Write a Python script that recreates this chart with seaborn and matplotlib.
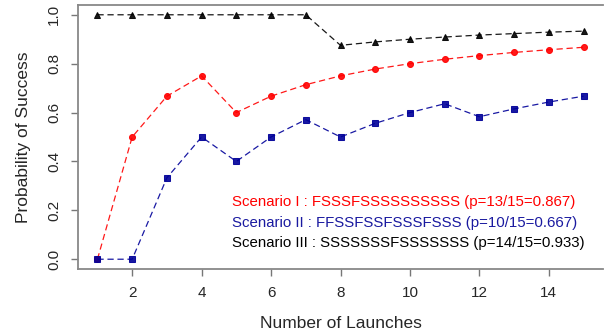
import numpy as np
import pandas as pd
import matplotlib
matplotlib.use("Agg")
import matplotlib.pyplot as plt
import seaborn as sns

launches = list(range(1, 16))
scen1 = [0.0, 0.5, 0.667, 0.75, 0.6, 0.667, 0.714, 0.75, 0.778, 0.8, 0.818, 0.833, 0.846, 0.857, 0.867]
scen2 = [0.0, 0.0, 0.333, 0.5, 0.4, 0.5, 0.571, 0.5, 0.556, 0.6, 0.636, 0.583, 0.615, 0.643, 0.667]
scen3 = [1.0, 1.0, 1.0, 1.0, 1.0, 1.0, 1.0, 0.875, 0.889, 0.9, 0.909, 0.917, 0.923, 0.929, 0.933]

labels = ["Scenario I : FSSSFSSSSSSSSSS (p=13/15=0.867)",
          "Scenario II : FFSSFSSFSSSFSSS (p=10/15=0.667)",
          "Scenario III : SSSSSSSFSSSSSSS (p=14/15=0.933)"]

sns.set_style("white")
plt.rcParams['font.family'] = ['Liberation Sans', 'DejaVu Sans']

fig = plt.figure(figsize=(6.04, 3.34), dpi=100)
ax = fig.add_axes([78 / 604, 1 - 269 / 334, 525 / 604, 264 / 334])

series = [(scen3, "black", "^", 4.8), (scen1, "red", "o", 4.3), (scen2, "#000099", "s", 3.8)]
for vals, col, mk, ms in series:
    sns.lineplot(x=launches, y=vals, ax=ax, color=col, marker=mk, markersize=ms,
                 markeredgecolor=col, linestyle=(0, (5, 3)), linewidth=0.9, alpha=0.9)

ax.set_xlim(0.44, 15.56)
ax.set_ylim(-0.04, 1.04)
ax.set_xticks([2, 4, 6, 8, 10, 12, 14])
ax.set_yticks([0.0, 0.2, 0.4, 0.6, 0.8, 1.0])
ax.set_yticklabels(["0.0", "0.2", "0.4", "0.6", "0.8", "1.0"], rotation=90, va="center")
ax.tick_params(axis="both", direction="out", length=5, width=1, color="#777777",
               labelsize=11, pad=7, bottom=True, left=True)
for s in ax.spines.values():
    s.set_color("#888888")
    s.set_linewidth(1.3)
ax.spines["right"].set_visible(False)

ax.set_xlabel("Number of Launches", fontsize=12.5, labelpad=12)
ax.set_ylabel("Probability of Success", fontsize=12.5, labelpad=12)

colors = ["red", "#1a1aa0", "black"]
ys = [202, 223, 243]
for lab, col, y in zip(labels, colors, ys):
    fig.text(232 / 604, 1 - y / 334, lab, color=col, fontsize=10.8, va="center", ha="left")

fig.savefig("out.png", dpi=100)
